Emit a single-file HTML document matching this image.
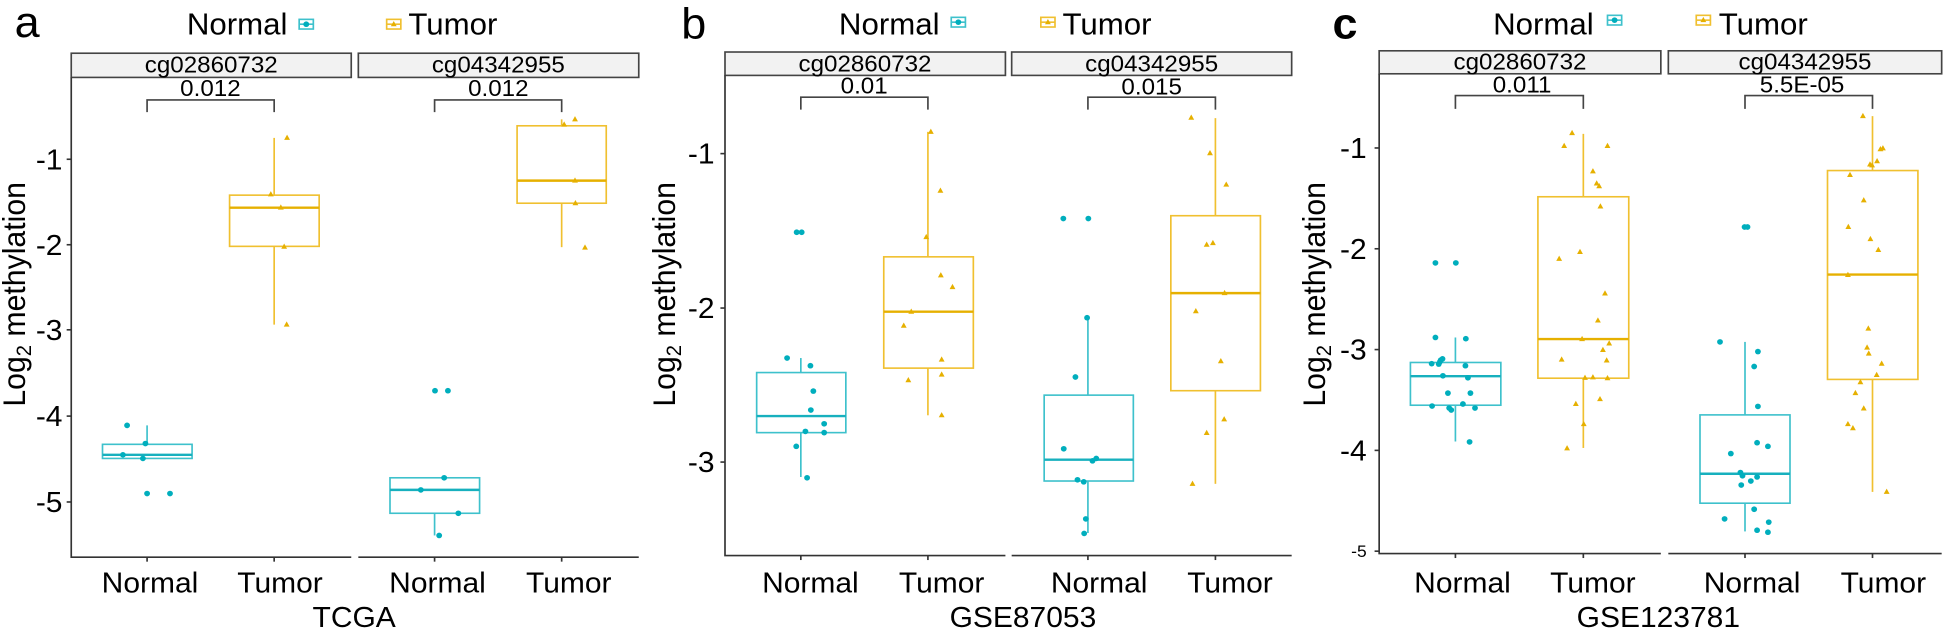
<!DOCTYPE html>
<html><head><meta charset="utf-8"><style>
html,body{margin:0;padding:0;background:#fff;}
svg{display:block;font-family:"Liberation Sans",Arial,sans-serif;}
</style></head><body>
<svg width="1946" height="633" viewBox="0 0 1946 633" xmlns="http://www.w3.org/2000/svg">
<defs>
<circle id="c" r="7" fill="#00AEBD"/>
<path id="t" d="M0,-8 L7,5 L-7,5Z" fill="#E6B000"/>
</defs>

<!-- PANEL A -->
<g transform="translate(0,0) scale(0.416667,0.4032)">
<text x="35" y="92" font-size="108">a</text>
<text x="690" y="85" font-size="75" text-anchor="end">Normal</text>
<g transform="translate(735,60)"><rect x="-17" y="-12" width="34" height="24" fill="none" stroke="#3EC1CC" stroke-width="4"/><line x1="-17" y1="0" x2="17" y2="0" stroke="#3EC1CC" stroke-width="4"/><use href="#c"/></g>
<g transform="translate(945,60)"><rect x="-17" y="-12" width="34" height="24" fill="none" stroke="#F0C030" stroke-width="4"/><line x1="-17" y1="0" x2="17" y2="0" stroke="#F0C030" stroke-width="4"/><use href="#t"/></g>
<text x="980" y="85" font-size="75">Tumor</text>
<rect x="171" y="132" width="672" height="60" fill="#F2F2F2" stroke="#444" stroke-width="4"/>
<rect x="860" y="132" width="673" height="60" fill="#F2F2F2" stroke="#444" stroke-width="4"/>
<text x="507" y="180" font-size="58" text-anchor="middle">cg02860732</text>
<text x="1196" y="180" font-size="58" text-anchor="middle">cg04342955</text>
<path d="M171,192 V1382 H843 M860,1382 H1533" fill="none" stroke="#333" stroke-width="4"/>
<g stroke="#333" stroke-width="4"><line x1="160" y1="395" x2="171" y2="395"/><line x1="160" y1="607" x2="171" y2="607"/><line x1="160" y1="818" x2="171" y2="818"/><line x1="160" y1="1032" x2="171" y2="1032"/><line x1="160" y1="1245" x2="171" y2="1245"/>
<line x1="353" y1="1382" x2="353" y2="1393"/><line x1="658" y1="1382" x2="658" y2="1393"/><line x1="1043" y1="1382" x2="1043" y2="1393"/><line x1="1348" y1="1382" x2="1348" y2="1393"/></g>
<g font-size="72" text-anchor="end"><text x="150" y="420">-1</text><text x="150" y="632">-2</text><text x="150" y="843">-3</text><text x="150" y="1057">-4</text><text x="150" y="1270">-5</text></g>
<g font-size="72" text-anchor="middle"><text x="360" y="1470">Normal</text><text x="672" y="1470">Tumor</text><text x="1050" y="1470">Normal</text><text x="1365" y="1470">Tumor</text><text x="850" y="1555">TCGA</text></g>
<text transform="translate(60,730) rotate(-90)" font-size="75" text-anchor="middle">Log<tspan font-size="50" dy="14">2</tspan><tspan dy="-14"> methylation</tspan></text>
<g fill="none" stroke="#444" stroke-width="4"><path d="M353,278 V248 H658 V278"/><path d="M1043,278 V248 H1348 V278"/></g>
<g font-size="58" text-anchor="middle"><text x="505" y="238">0.012</text><text x="1196" y="238">0.012</text></g>
<g fill="none" stroke-width="4">
<g stroke="#3EC1CC"><line x1="353" y1="1055" x2="353" y2="1102"/><rect x="246" y="1102" width="215" height="35"/><line x1="246" y1="1128" x2="461" y2="1128" stroke="#17B0BE" stroke-width="6"/>
<line x1="1043" y1="1273" x2="1043" y2="1328"/><rect x="936" y="1185" width="215" height="88"/><line x1="936" y1="1215" x2="1151" y2="1215" stroke="#17B0BE" stroke-width="6"/></g>
<g stroke="#F0C030"><line x1="658" y1="342" x2="658" y2="484"/><line x1="658" y1="611" x2="658" y2="805"/><rect x="551" y="484" width="215" height="127"/><line x1="551" y1="515" x2="766" y2="515" stroke="#E6B000" stroke-width="6"/>
<line x1="1348" y1="296" x2="1348" y2="312"/><line x1="1348" y1="504" x2="1348" y2="613"/><rect x="1241" y="312" width="214" height="192"/><line x1="1241" y1="448" x2="1455" y2="448" stroke="#E6B000" stroke-width="6"/></g>
</g>
<g>
<use href="#c" x="295" y="1128"/><use href="#c" x="349" y="1100"/><use href="#c" x="343" y="1137"/><use href="#c" x="305" y="1055"/><use href="#c" x="353" y="1224"/><use href="#c" x="408" y="1224"/>
<use href="#t" x="689" y="342"/><use href="#t" x="650" y="482"/><use href="#t" x="674" y="515"/><use href="#t" x="682" y="612"/><use href="#t" x="688" y="805"/>
<use href="#c" x="1044" y="969"/><use href="#c" x="1075" y="969"/><use href="#c" x="1066" y="1185"/><use href="#c" x="1010" y="1215"/><use href="#c" x="1100" y="1273"/><use href="#c" x="1054" y="1328"/>
<use href="#t" x="1354" y="309"/><use href="#t" x="1380" y="296"/><use href="#t" x="1380" y="448"/><use href="#t" x="1381" y="504"/><use href="#t" x="1404" y="614"/>
</g>
</g>

<!-- PANEL B -->
<g transform="translate(650,0) scale(0.416667,0.4032)">
<text x="75" y="95" font-size="108">b</text>
<text x="695" y="85" font-size="75" text-anchor="end">Normal</text>
<g transform="translate(740,55)"><rect x="-17" y="-12" width="34" height="24" fill="none" stroke="#3EC1CC" stroke-width="4"/><line x1="-17" y1="0" x2="17" y2="0" stroke="#3EC1CC" stroke-width="4"/><use href="#c"/></g>
<g transform="translate(955,55)"><rect x="-17" y="-12" width="34" height="24" fill="none" stroke="#F0C030" stroke-width="4"/><line x1="-17" y1="0" x2="17" y2="0" stroke="#F0C030" stroke-width="4"/><use href="#t"/></g>
<text x="990" y="85" font-size="75">Tumor</text>
<rect x="180" y="129" width="673" height="58" fill="#F2F2F2" stroke="#444" stroke-width="4"/>
<rect x="868" y="129" width="672" height="58" fill="#F2F2F2" stroke="#444" stroke-width="4"/>
<text x="516" y="177" font-size="58" text-anchor="middle">cg02860732</text>
<text x="1204" y="177" font-size="58" text-anchor="middle">cg04342955</text>
<path d="M180,187 V1378 H853 M868,1378 H1540" fill="none" stroke="#333" stroke-width="4"/>
<g stroke="#333" stroke-width="4"><line x1="169" y1="381" x2="180" y2="381"/><line x1="169" y1="764" x2="180" y2="764"/><line x1="169" y1="1146" x2="180" y2="1146"/>
<line x1="362" y1="1378" x2="362" y2="1389"/><line x1="667" y1="1378" x2="667" y2="1389"/><line x1="1051" y1="1378" x2="1051" y2="1389"/><line x1="1357" y1="1378" x2="1357" y2="1389"/></g>
<g font-size="72" text-anchor="end"><text x="155" y="406">-1</text><text x="155" y="789">-2</text><text x="155" y="1171">-3</text></g>
<g font-size="72" text-anchor="middle"><text x="385" y="1470">Normal</text><text x="700" y="1470">Tumor</text><text x="1078" y="1470">Normal</text><text x="1392" y="1470">Tumor</text><text x="895" y="1555">GSE87053</text></g>
<text transform="translate(60,730) rotate(-90)" font-size="75" text-anchor="middle">Log<tspan font-size="50" dy="14">2</tspan><tspan dy="-14"> methylation</tspan></text>
<g fill="none" stroke="#444" stroke-width="4"><path d="M362,272 V241 H667 V272"/><path d="M1051,272 V241 H1357 V272"/></g>
<g font-size="58" text-anchor="middle"><text x="514" y="232">0.01</text><text x="1204" y="234">0.015</text></g>
<g fill="none" stroke-width="4">
<g stroke="#3EC1CC"><line x1="362" y1="888" x2="362" y2="924"/><line x1="362" y1="1073" x2="362" y2="1183"/><rect x="256" y="924" width="214" height="149"/><line x1="256" y1="1032" x2="470" y2="1032" stroke="#17B0BE" stroke-width="6"/>
<line x1="1051" y1="788" x2="1051" y2="980"/><line x1="1051" y1="1193" x2="1051" y2="1322"/><rect x="946" y="980" width="214" height="213"/><line x1="946" y1="1140" x2="1160" y2="1140" stroke="#17B0BE" stroke-width="6"/></g>
<g stroke="#F0C030"><line x1="667" y1="327" x2="667" y2="637"/><line x1="667" y1="913" x2="667" y2="1030"/><rect x="561" y="637" width="215" height="276"/><line x1="561" y1="773" x2="776" y2="773" stroke="#E6B000" stroke-width="6"/>
<line x1="1357" y1="293" x2="1357" y2="535"/><line x1="1357" y1="969" x2="1357" y2="1200"/><rect x="1250" y="535" width="215" height="434"/><line x1="1250" y1="727" x2="1465" y2="727" stroke="#E6B000" stroke-width="6"/></g>
</g>
<g>
<use href="#c" x="352" y="576"/><use href="#c" x="364" y="576"/><use href="#c" x="329" y="888"/><use href="#c" x="385" y="907"/><use href="#c" x="392" y="970"/><use href="#c" x="386" y="1017"/><use href="#c" x="418" y="1051"/><use href="#c" x="373" y="1070"/><use href="#c" x="418" y="1073"/><use href="#c" x="351" y="1107"/><use href="#c" x="377" y="1185"/>
<use href="#t" x="674" y="327"/><use href="#t" x="697" y="473"/><use href="#t" x="663" y="588"/><use href="#t" x="698" y="683"/><use href="#t" x="726" y="712"/><use href="#t" x="627" y="773"/><use href="#t" x="609" y="808"/><use href="#t" x="700" y="892"/><use href="#t" x="620" y="943"/><use href="#t" x="700" y="929"/><use href="#t" x="700" y="1030"/>
<use href="#c" x="992" y="542"/><use href="#c" x="1052" y="542"/><use href="#c" x="1049" y="788"/><use href="#c" x="1021" y="935"/><use href="#c" x="993" y="1113"/><use href="#c" x="1071" y="1137"/><use href="#c" x="1062" y="1143"/><use href="#c" x="1026" y="1190"/><use href="#c" x="1041" y="1195"/><use href="#c" x="1046" y="1287"/><use href="#c" x="1042" y="1323"/>
<use href="#t" x="1299" y="292"/><use href="#t" x="1344" y="380"/><use href="#t" x="1383" y="458"/><use href="#t" x="1336" y="607"/><use href="#t" x="1351" y="603"/><use href="#t" x="1379" y="727"/><use href="#t" x="1310" y="772"/><use href="#t" x="1370" y="896"/><use href="#t" x="1378" y="1040"/><use href="#t" x="1336" y="1074"/><use href="#t" x="1302" y="1200"/>
</g>
</g>

<!-- PANEL C -->
<g transform="translate(1300,0) scale(0.416667,0.4032)">
<text x="78" y="95" font-size="108" font-weight="bold">c</text>
<text x="705" y="85" font-size="75" text-anchor="end">Normal</text>
<g transform="translate(755,50)"><rect x="-17" y="-12" width="34" height="24" fill="none" stroke="#3EC1CC" stroke-width="4"/><line x1="-17" y1="0" x2="17" y2="0" stroke="#3EC1CC" stroke-width="4"/><use href="#c"/></g>
<g transform="translate(968,50)"><rect x="-17" y="-12" width="34" height="24" fill="none" stroke="#F0C030" stroke-width="4"/><line x1="-17" y1="0" x2="17" y2="0" stroke="#F0C030" stroke-width="4"/><use href="#t"/></g>
<text x="1005" y="85" font-size="75">Tumor</text>
<rect x="190" y="126" width="676" height="57" fill="#F2F2F2" stroke="#444" stroke-width="4"/>
<rect x="884" y="126" width="656" height="57" fill="#F2F2F2" stroke="#444" stroke-width="4"/>
<text x="528" y="173" font-size="58" text-anchor="middle">cg02860732</text>
<text x="1212" y="173" font-size="58" text-anchor="middle">cg04342955</text>
<path d="M190,183 V1373 H866 M884,1373 H1540" fill="none" stroke="#333" stroke-width="4"/>
<g stroke="#333" stroke-width="4"><line x1="179" y1="367" x2="190" y2="367"/><line x1="179" y1="617" x2="190" y2="617"/><line x1="179" y1="867" x2="190" y2="867"/><line x1="179" y1="1117" x2="190" y2="1117"/><line x1="179" y1="1367" x2="190" y2="1367"/>
<line x1="373" y1="1373" x2="373" y2="1384"/><line x1="680" y1="1373" x2="680" y2="1384"/><line x1="1068" y1="1373" x2="1068" y2="1384"/><line x1="1374" y1="1373" x2="1374" y2="1384"/></g>
<g font-size="72" text-anchor="end"><text x="160" y="392">-1</text><text x="160" y="642">-2</text><text x="160" y="892">-3</text><text x="160" y="1142">-4</text><text x="160" y="1382" font-size="42">-5</text></g>
<g font-size="72" text-anchor="middle"><text x="390" y="1470">Normal</text><text x="703" y="1470">Tumor</text><text x="1085" y="1470">Normal</text><text x="1400" y="1470">Tumor</text><text x="860" y="1555">GSE123781</text></g>
<text transform="translate(60,730) rotate(-90)" font-size="75" text-anchor="middle">Log<tspan font-size="50" dy="14">2</tspan><tspan dy="-14"> methylation</tspan></text>
<g fill="none" stroke="#444" stroke-width="4"><path d="M373,270 V237 H680 V270"/><path d="M1068,270 V237 H1374 V270"/></g>
<g font-size="58" text-anchor="middle"><text x="533" y="230">0.011</text><text x="1205" y="230">5.5E-05</text></g>
<g fill="none" stroke-width="4">
<g stroke="#3EC1CC"><line x1="373" y1="837" x2="373" y2="899"/><line x1="373" y1="1005" x2="373" y2="1095"/><rect x="265" y="899" width="217" height="106"/><line x1="265" y1="933" x2="482" y2="933" stroke="#17B0BE" stroke-width="6"/>
<line x1="1068" y1="848" x2="1068" y2="1029"/><line x1="1068" y1="1248" x2="1068" y2="1318"/><rect x="960" y="1029" width="216" height="219"/><line x1="960" y1="1175" x2="1176" y2="1175" stroke="#17B0BE" stroke-width="6"/></g>
<g stroke="#F0C030"><line x1="680" y1="332" x2="680" y2="488"/><line x1="680" y1="938" x2="680" y2="1111"/><rect x="571" y="488" width="218" height="450"/><line x1="571" y1="841" x2="789" y2="841" stroke="#E6B000" stroke-width="6"/>
<line x1="1374" y1="288" x2="1374" y2="423"/><line x1="1374" y1="941" x2="1374" y2="1220"/><rect x="1266" y="423" width="217" height="518"/><line x1="1266" y1="681" x2="1483" y2="681" stroke="#E6B000" stroke-width="6"/></g>
</g>
<g>
<use href="#c" x="325" y="652"/><use href="#c" x="374" y="652"/><use href="#c" x="325" y="837"/><use href="#c" x="398" y="840"/><use href="#c" x="316" y="902"/><use href="#c" x="333" y="903"/><use href="#c" x="338" y="893"/><use href="#c" x="342" y="890"/><use href="#c" x="336" y="897"/><use href="#c" x="397" y="907"/><use href="#c" x="343" y="932"/><use href="#c" x="403" y="937"/><use href="#c" x="355" y="975"/><use href="#c" x="409" y="975"/><use href="#c" x="317" y="1007"/><use href="#c" x="358" y="1012"/><use href="#c" x="363" y="1017"/><use href="#c" x="391" y="1002"/><use href="#c" x="420" y="1012"/><use href="#c" x="407" y="1096"/>
<use href="#t" x="653" y="330"/><use href="#t" x="634" y="362"/><use href="#t" x="738" y="362"/><use href="#t" x="703" y="425"/><use href="#t" x="712" y="455"/><use href="#t" x="718" y="462"/><use href="#t" x="721" y="512"/><use href="#t" x="622" y="642"/><use href="#t" x="672" y="625"/><use href="#t" x="732" y="728"/><use href="#t" x="715" y="795"/><use href="#t" x="677" y="841"/><use href="#t" x="742" y="852"/><use href="#t" x="628" y="892"/><use href="#t" x="727" y="868"/><use href="#t" x="736" y="894"/><use href="#t" x="684" y="937"/><use href="#t" x="703" y="936"/><use href="#t" x="738" y="938"/><use href="#t" x="720" y="990"/><use href="#t" x="662" y="1002"/><use href="#t" x="681" y="1052"/><use href="#t" x="641" y="1112"/>
<use href="#c" x="1067" y="563"/><use href="#c" x="1074" y="563"/><use href="#c" x="1008" y="848"/><use href="#c" x="1099" y="872"/><use href="#c" x="1090" y="909"/><use href="#c" x="1099" y="1008"/><use href="#c" x="1097" y="1098"/><use href="#c" x="1123" y="1107"/><use href="#c" x="1034" y="1125"/><use href="#c" x="1057" y="1172"/><use href="#c" x="1062" y="1180"/><use href="#c" x="1097" y="1183"/><use href="#c" x="1082" y="1193"/><use href="#c" x="1059" y="1203"/><use href="#c" x="1019" y="1287"/><use href="#c" x="1090" y="1263"/><use href="#c" x="1125" y="1295"/><use href="#c" x="1097" y="1315"/><use href="#c" x="1123" y="1320"/>
<use href="#t" x="1351" y="288"/><use href="#t" x="1399" y="368"/><use href="#t" x="1393" y="370"/><use href="#t" x="1385" y="400"/><use href="#t" x="1368" y="408"/><use href="#t" x="1373" y="410"/><use href="#t" x="1320" y="434"/><use href="#t" x="1353" y="497"/><use href="#t" x="1316" y="563"/><use href="#t" x="1369" y="593"/><use href="#t" x="1388" y="620"/><use href="#t" x="1315" y="682"/><use href="#t" x="1364" y="815"/><use href="#t" x="1361" y="862"/><use href="#t" x="1365" y="877"/><use href="#t" x="1396" y="902"/><use href="#t" x="1384" y="930"/><use href="#t" x="1345" y="948"/><use href="#t" x="1333" y="975"/><use href="#t" x="1353" y="1013"/><use href="#t" x="1315" y="1052"/><use href="#t" x="1327" y="1062"/><use href="#t" x="1408" y="1220"/>
</g>
</g>
</svg>
</body></html>
